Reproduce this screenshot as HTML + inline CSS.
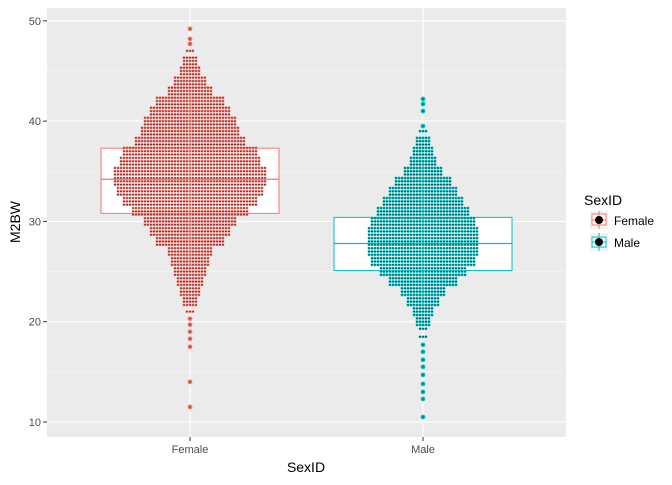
<!DOCTYPE html>
<html><head><meta charset="utf-8"><style>
body{margin:0;background:#fff;font-family:"Liberation Sans",sans-serif}
</style></head><body>
<svg id="chart" width="672" height="480" xmlns="http://www.w3.org/2000/svg">
<rect x="47" y="8" width="519" height="429" fill="#ebebeb"/>
<g id="grid"></g><g id="boxes"></g><g id="dots"></g><g id="axes"></g>
<g>
<text x="584" y="205" font-size="14" fill="#000">SexID</text>
<g>
<rect x="590" y="211" width="18" height="18" fill="#f2f2f2"/>
<rect x="592" y="214" width="14" height="11" fill="#fff" stroke="#f8766d"/>
<line x1="599" y1="211" x2="599" y2="229" stroke="#f8766d"/><line x1="592" y1="220" x2="606" y2="220" stroke="#f8766d"/>
<circle cx="599" cy="220" r="4" fill="#000"/>
<text x="614" y="225" font-size="12" fill="#000">Female</text></g>
<g>
<rect x="590" y="233" width="18" height="18" fill="#f2f2f2"/>
<rect x="592" y="237" width="14" height="10" fill="#fff" stroke="#00bfc4"/>
<line x1="599" y1="233" x2="599" y2="251" stroke="#00bfc4"/><line x1="592" y1="242" x2="606" y2="242" stroke="#00bfc4"/>
<circle cx="599" cy="242" r="4" fill="#000"/>
<text x="614" y="247" font-size="12" fill="#000">Male</text></g>
</g>
<text x="306" y="472" font-size="14" text-anchor="middle" fill="#000">SexID</text>
<text transform="translate(20,222) rotate(-90)" font-size="14" text-anchor="middle" fill="#000">M2BW</text>
</svg>
<script>
const categories=["Female","Male"];
const yTicks=[10,20,30,40,50];
const femaleValues=[11.5,14,17.5,18.3,19,19.7,20.3,21,22,23,24,25,26,27,28,29,30,31,32,33,34,35,36,37,38,39,40,41,42,43,44,45,46,47,47.7,48.2,49.2];
const femaleCounts=[1,1,1,1,1,1,1,3,5,8,11,14,18,22,34,38,45,56,66,72,76,74,70,65,55,48,44,40,32,22,15,10,6,2,1,1,1];
const maleValues=[10.5,12.3,13,13.8,14.7,15.5,16.2,17,17.7,18.5,19.3,20,21,22,23,24,25,26,27,28,29,30,31,32,33,34,35,36,37,38,39,39.5,41,41.7,42.2];
const maleCounts=[1,1,1,1,1,1,1,1,1,3,4,6,10,16,22,33,42,50,54,55,54,50,46,40,34,26,18,12,8,5,3,1,1,1,1];
const boxStats=[[25.5,30.8,34.2,37.3,43],[21.5,25.1,27.8,30.4,36]];
const colors=["#f8766d","#00bfc4"];
const NS="http://www.w3.org/2000/svg";
const yS=v=>422-(v-10)*10.03;
const xS=i=>[190,423][i];
function el(t,a,p){const e=document.createElementNS(NS,t);for(const k in a)e.setAttribute(k,a[k]);document.getElementById(p).appendChild(e);return e;}
for(let v=15;v<=45;v+=10){const l=el('line',{x1:47,x2:566,y1:yS(v),y2:yS(v),stroke:'#f7f7f7','stroke-width':0.6},'grid');
}
yTicks.forEach(v=>{const l=el('line',{x1:47,x2:566,y1:yS(v),y2:yS(v),stroke:'#fff','stroke-width':1.1},'grid');

const t=el('text',{x:41,y:yS(v)+4,'font-size':11,'text-anchor':'end',fill:'#4d4d4d'},'axes');t.textContent=v;

el('line',{x1:43,x2:47,y1:yS(v),y2:yS(v),stroke:'#333'},'axes');});
categories.forEach((c,i)=>{const l=el('line',{x1:xS(i),x2:xS(i),y1:8,y2:437,stroke:'#fff','stroke-width':1.1},'grid');

const t=el('text',{x:xS(i),y:453,'font-size':11,'text-anchor':'middle',fill:'#4d4d4d'},'axes');t.textContent=c;

el('line',{x1:xS(i),x2:xS(i),y1:437,y2:441,stroke:'#333'},'axes');
const s=boxStats[i],x=xS(i);
const b=el('rect',{x:x-89,y:yS(s[3]),width:178,height:yS(s[1])-yS(s[3]),fill:'#fff',stroke:colors[i]},'boxes');
});
function drawDots(vals,counts,i){const x0=xS(i);
vals.forEach((v,k)=>{const hw=counts[k];
if(hw<=1){const d=el('circle',{cx:x0,cy:yS(v),r:2,fill:colors[i],stroke:colors[i],'stroke-width':0.8},'dots');

el('circle',{cx:x0,cy:yS(v),r:0.6,fill:'#000'},'dots');return;}
const n=Math.max(1,Math.round(hw/3)+1);
const sub=hw<=4?[0]:[-0.33,0,0.33];
sub.forEach(o=>{const y=yS(v+o);for(let j=-n+1;j<n;j++){
const d=el('circle',{cx:x0+j*3,cy:y,r:1,fill:'#000',stroke:colors[i],'stroke-width':0.8},'dots');

}});});}
drawDots(femaleValues,femaleCounts,0);
drawDots(maleValues,maleCounts,1);
categories.forEach((c,i)=>{const s=boxStats[i],x=xS(i);
const w=el('line',{x1:x,x2:x,y1:yS(s[0]),y2:yS(s[4]),stroke:colors[i],'stroke-opacity':0.6},'dots');

const m=el('line',{x1:x-89,x2:x+89,y1:yS(s[2]),y2:yS(s[2]),stroke:colors[i],'stroke-width':1.2},'dots');
});
</script>
</body></html>
